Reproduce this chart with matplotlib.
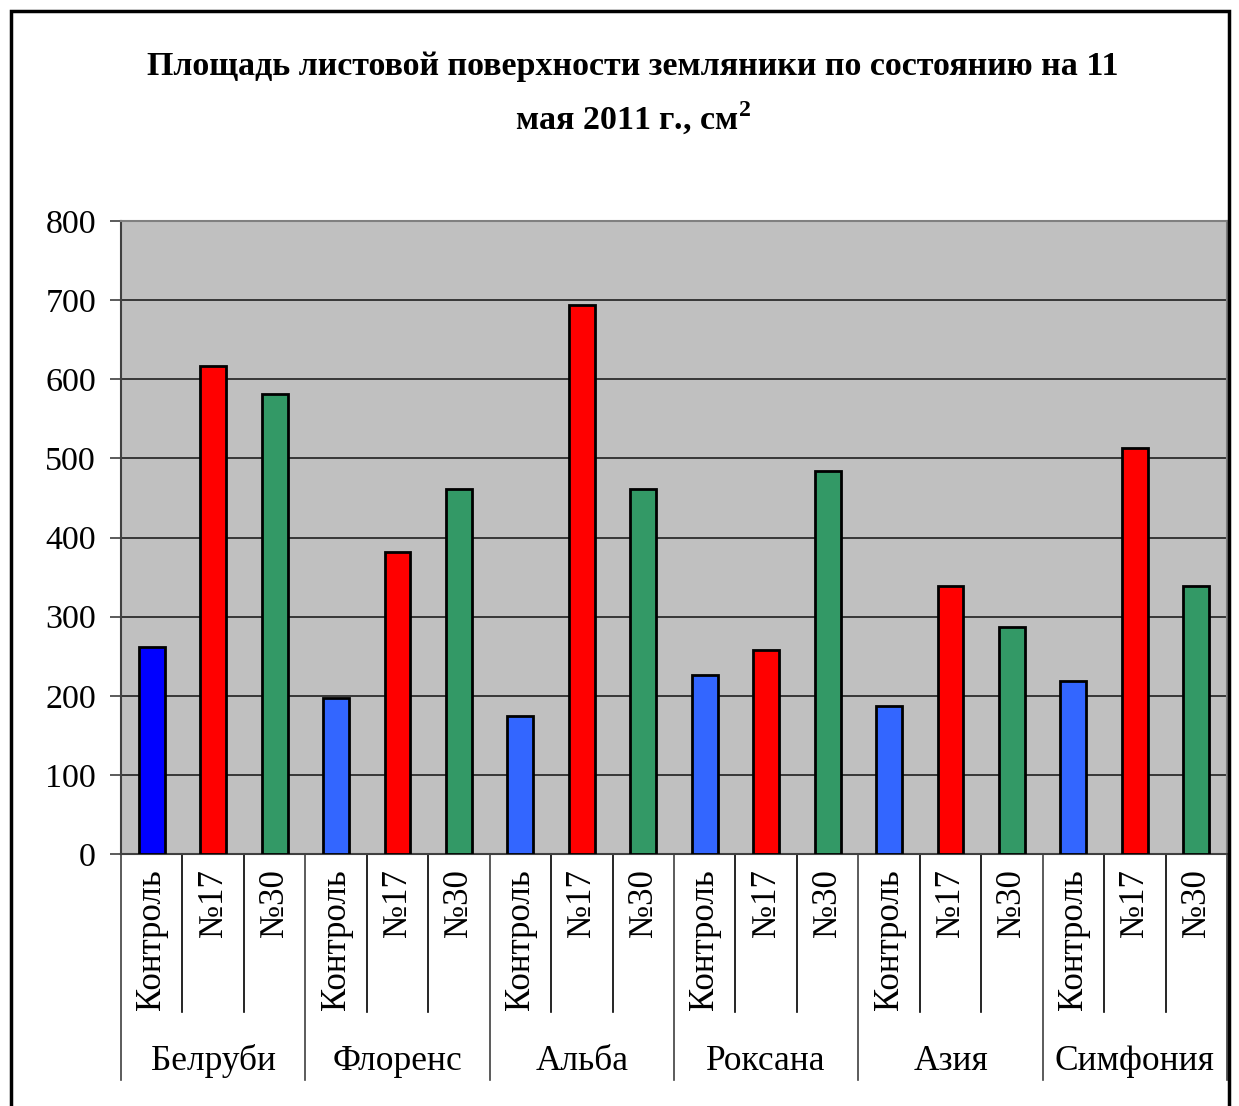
import numpy as np
import matplotlib.pyplot as plt
from matplotlib.patches import Rectangle
import matplotlib.transforms as mtransforms

plt.rcParams['font.family'] = ['Liberation Serif', 'DejaVu Serif']
plt.rcParams['mathtext.fontset'] = 'custom'
plt.rcParams['mathtext.rm'] = 'Liberation Serif'
plt.rcParams['mathtext.bf'] = 'Liberation Serif:bold'

varieties = ['Белруби', 'Флоренс', 'Альба', 'Роксана', 'Азия', 'Симфония']
treatments = ['Контроль', '№17', '№30']
kontrol = [261, 197, 174, 226, 187, 219]
n17 = [617, 382, 694, 258, 339, 513]
n30 = [581, 461, 461, 484, 287, 339]

values = []
for i in range(len(varieties)):
    values += [kontrol[i], n17[i], n30[i]]
colors = []
for i in range(len(varieties)):
    colors += ['#0000FF' if i == 0 else '#3366FF', '#FF0000', '#339966']

fig = plt.figure(figsize=(12.39, 11.06), dpi=100)
ax = fig.add_axes([121 / 1239, 1 - 854 / 1106, (1227 - 121) / 1239, (854 - 221) / 1106])
ax.set_facecolor('#C0C0C0')

x = np.arange(len(values))
ax.bar(x, values, width=0.42, color=colors, edgecolor='black', linewidth=2, zorder=3)

ax.set_xlim(-0.5, len(values) - 0.5)
ax.set_ylim(0, 800)
ax.set_yticks(np.arange(0, 801, 100))
ax.yaxis.grid(True, color='#202020', linewidth=1.2, zorder=1)
ax.set_axisbelow(True)
ax.tick_params(axis='y', labelsize=24.5, length=8, width=1.2, color='#404040', pad=10)

ax.set_xticks(x)
ax.set_xticklabels(treatments * len(varieties), rotation=90, fontsize=25, va='top')
ax.tick_params(axis='x', length=0, pad=11)

for s in ['top', 'right']:
    ax.spines[s].set_color('#808080')
    ax.spines[s].set_linewidth(1.5)
for s in ['left', 'bottom']:
    ax.spines[s].set_color('#404040')
    ax.spines[s].set_linewidth(1.5)

# category separators below the axis
trans = mtransforms.blended_transform_factory(ax.transData, ax.transAxes)
inner_bot = -(1012 - 854) / 633
outer_bot = -(1080 - 854) / 633
for k in range(len(values) + 1):
    xs = k - 0.5
    if k % 3 == 0:
        ax.plot([xs, xs], [0, outer_bot], color='#404040', lw=1.2, transform=trans, clip_on=False)
    else:
        ax.plot([xs, xs], [0, inner_bot], color='black', lw=1.2, transform=trans, clip_on=False)

group_y = -(1061 - 854) / 633
for i, name in enumerate(varieties):
    ax.text(3 * i + 1, group_y, name, transform=trans, ha='center', va='center', fontsize=25.5)

fig.text(633 / 1239, 1 - 66 / 1106, 'Площадь листовой поверхности земляники по состоянию на 11',
         ha='center', va='center', fontsize=24.5, fontweight='bold')
fig.text(633 / 1239, 1 - 118 / 1106, r'мая 2011 г., см$^{\mathbf{2}}$',
         ha='center', va='center', fontsize=24.5, fontweight='bold')

fig.patches.append(Rectangle((11 / 1239, -0.05), (1229 - 11) / 1239, 1.05 - 11 / 1106,
                             transform=fig.transFigure, fill=False, edgecolor='black', linewidth=2.5))

fig.savefig('out.png', dpi=100)
